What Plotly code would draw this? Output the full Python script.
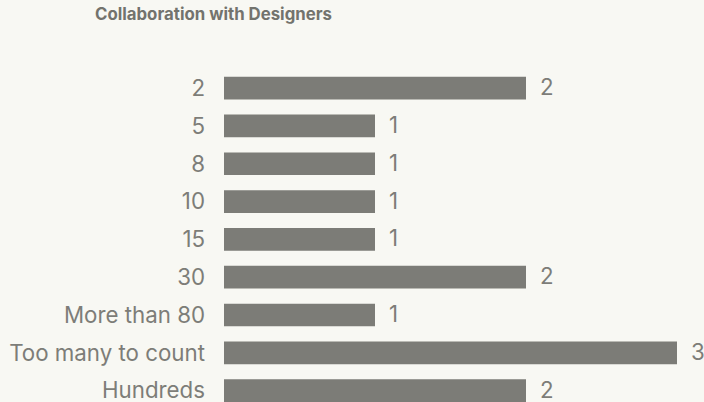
import plotly.graph_objects as go

# Survey answers: number of designers each respondent collaborates with
categories = ["2", "5", "8", "10", "15", "30", "More than 80", "Too many to count", "Hundreds"]
counts = [2, 1, 1, 1, 1, 2, 1, 3, 2]

BG = "#f8f8f3"
BAR = "#7c7c77"
TEXT = "#7d7d78"
FONT = "Inter"
LABEL_SIZE = 22.3

fig = go.Figure(
    go.Bar(
        x=counts,
        y=categories,
        orientation="h",
        marker=dict(color=BAR, line=dict(width=0)),
        width=0.6,
        hoverinfo="skip",
    )
)

# value labels to the right of each bar (positioned by category index,
# since the category names look numeric)
for i, val in enumerate(counts):
    fig.add_annotation(
        x=val, y=i, text=str(val), showarrow=False,
        xanchor="left", yanchor="middle", xshift=12, yshift=2,
        height=20, valign="middle",
        font=dict(family=FONT, size=LABEL_SIZE, color=TEXT),
    )

fig.update_layout(
    width=704,
    height=402,
    paper_bgcolor=BG,
    plot_bgcolor=BG,
    margin=dict(l=224, r=27, t=70, b=0),
    showlegend=False,
    title=dict(
        text="<b>Collaboration with Designers</b>",
        x=95 / 704, xref="container", xanchor="left",
        y=1 - 14 / 402, yref="container", yanchor="middle",
        font=dict(family=FONT, size=16.8, color="#73736d"),
    ),
    xaxis=dict(
        range=[0, 3], visible=False, showgrid=False, zeroline=False,
    ),
    yaxis=dict(
        type="category",
        range=[8.30, -0.48],
        showgrid=False, zeroline=False, showline=False,
        ticks="", ticklabelstandoff=18,
        tickfont=dict(family=FONT, size=LABEL_SIZE, color=TEXT),
    ),
)

fig.write_html("out.html")
